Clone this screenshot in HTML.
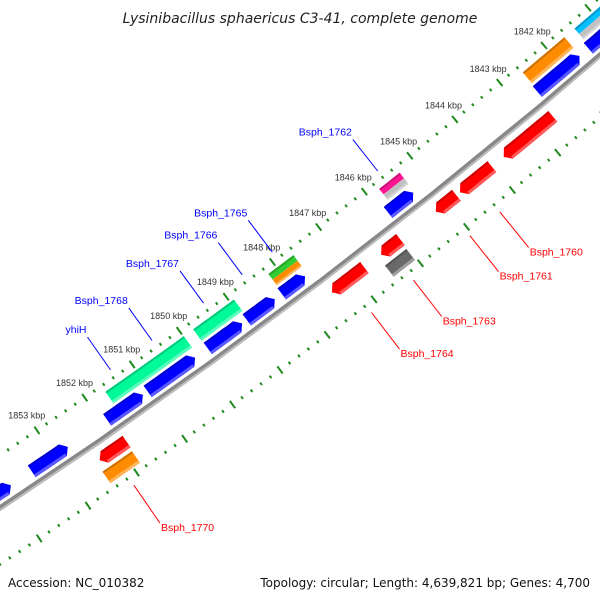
<!DOCTYPE html>
<html><head><meta charset="utf-8"><style>
html,body{margin:0;padding:0;background:#fff;}
svg{display:block;font-family:"Liberation Sans",sans-serif;}
</style></head><body>
<svg id="chart" width="600" height="600" viewBox="0 0 600 600">
<text x="300" y="23" text-anchor="middle" font-size="14" font-style="italic" fill="#222" style="font-family:'DejaVu Sans',sans-serif">Lysinibacillus sphaericus C3-41, complete genome</text>
<g id="ticks"></g>
<g id="backbone"></g>
<g id="genes"></g>
<g id="labels"></g>
<text x="8" y="587" font-size="12" fill="#111" style="font-family:'DejaVu Sans',sans-serif">Accession: NC_010382</text>
<text x="590" y="587" font-size="12" text-anchor="end" fill="#111" style="font-family:'DejaVu Sans',sans-serif">Topology: circular; Length: 4,639,821 bp; Genes: 4,700</text>
</svg>
<script>
// data
const kbpTicks = [1840,1841,1842,1843,1844,1845,1846,1847,1848,1849,1850,1851,1852,1853,1854,1855];
const geneStarts = [1840.5,1841.65,1845.35,1847.7,1848.35,1849.05,1850.05,1851.15,1852.72,1853.9,
  1840.5,1841.64,1845.32,1847.64,1848.92,1849.99,
  1842.67,1844.02,1844.8,1846.02,1846.8,1851.84,1846.04,1851.86];
const geneEnds = [1841.45,1842.6,1845.9,1848.2,1848.95,1849.78,1851.05,1851.9,1853.47,1855,
  1841.41,1842.58,1845.77,1848.18,1849.79,1851.65,
  1843.76,1844.72,1845.25,1846.44,1847.5,1852.4,1846.5,1852.47];
const geneLanes = [1,1,1,1,1,1,1,1,1,1, 2,2,2,2,2,2, -1,-1,-1,-1,-1,-1, -2,-2];
const geneColors = ["#0000ff","#0000ff","#0000ff","#0000ff","#0000ff","#0000ff","#0000ff","#0000ff","#0000ff","#0000ff",
  "#00bfff","#ff8c00","#ff1493","#32cd32","#00fa9a","#00fa9a",
  "#ff0000","#ff0000","#ff0000","#ff0000","#ff0000","#ff0000","#696969","#ff8c00"];
const geneSecond = ["","","","","","","","","","", "#c0c0c0","","#c0c0c0","#ff8c00","","", "","","","","","","",""];
const labelNames = ["Bsph_1762","Bsph_1765","Bsph_1766","Bsph_1767","Bsph_1768","yhiH","Bsph_1760","Bsph_1761","Bsph_1763","Bsph_1764","Bsph_1770"];
const labelGeneKbp = [1845.6,1847.9,1848.55,1849.38,1850.48,1851.36,1844.4,1845.05,1846.27,1847.17,1852.16];

const NS="http://www.w3.org/2000/svg";
const CX=-3306, CY=-4499, R=6000;
function ang(k){return (51.40+(k-1845)*0.557)*Math.PI/180;}
function pt(r,k){const a=ang(k);return [CX+r*Math.cos(a),CY+r*Math.sin(a)];}
function el(tag,attrs,parent){const e=document.createElementNS(NS,tag);for(const k in attrs)e.setAttribute(k,attrs[k]);parent.appendChild(e);return e;}
function mix(c,w,t){const n=parseInt(c.slice(1),16);let r=n>>16,g=(n>>8)&255,b=n&255;const m=w?255:0;r=Math.round(r+(m-r)*t);g=Math.round(g+(m-g)*t);b=Math.round(b+(m-b)*t);return "rgb("+r+","+g+","+b+")";}
function arcPoly(r1,r2,k1,k2){const pts=[];const n=8;for(let i=0;i<=n;i++){pts.push(pt(r1,k1+(k2-k1)*i/n));}for(let i=n;i>=0;i--){pts.push(pt(r2,k1+(k2-k1)*i/n));}return pts.map(p=>p[0].toFixed(1)+","+p[1].toFixed(1)).join(" ");}

// ticks
const tg=document.getElementById('ticks');
for(const ring of [R-44,R+47]){
  for(let k=kbpTicks[0]*5;k<=kbpTicks[kbpTicks.length-1]*5;k++){
    const kb=k/5, major=(k%5===0);
    const L=major?4.5:1.5;
    const a=pt(ring-L,kb), b=pt(ring+L,kb);
    const t=el('line',{x1:a[0],y1:a[1],x2:b[0],y2:b[1],stroke:"#1e8a1e","stroke-width":2},tg);
    
    
  }
}
kbpTicks.forEach(k=>{
  const p=pt(R-62,k);
  const t=el('text',{x:p[0].toFixed(1),y:(p[1]+3).toFixed(1),"font-size":9,"text-anchor":"middle",fill:"#333"},tg);
  t.textContent=k+" kbp";
  
  
});

// backbone
const bg=document.getElementById('backbone');
const bb1=el('polygon',{points:arcPoly(R-2.5,R+1,1838,1857),fill:"#888"},bg);


const bb2=el('polygon',{points:arcPoly(R+1,R+3,1838,1857),fill:"#bbb"},bg);



// genes
const gg=document.getElementById('genes');
const laneR={1:R-13,2:R-30,"-1":R+16,"-2":R+34};
const HW=7, TIP=6/6000*180/Math.PI/0.557;
geneStarts.forEach((s,i)=>{
  const e=geneEnds[i], lane=geneLanes[i], rc=laneR[lane], col=geneColors[i];
  const r1=rc-HW, r2=rc+HW;
  const arrow = (lane===1)||(lane===-1);
  let pts=[];
  if(arrow && lane===1){
    const n=8;
    for(let j=0;j<=n;j++)pts.push(pt(r1,s+TIP+(e-s-TIP)*j/n));
    for(let j=n;j>=0;j--)pts.push(pt(r2,s+TIP+(e-s-TIP)*j/n));
    pts.push(pt(rc,s));
  } else if(arrow){
    const n=8;
    for(let j=0;j<=n;j++)pts.push(pt(r1,s+(e-TIP-s)*j/n));
    pts.push(pt(rc,e));
    for(let j=n;j>=0;j--)pts.push(pt(r2,s+(e-TIP-s)*j/n));
  }
  const g=el('g',{},gg);
  
  
  if(pts.length){
    el('polygon',{points:pts.map(p=>p[0].toFixed(1)+","+p[1].toFixed(1)).join(" "),fill:col},g);
    el('polygon',{points:arcPoly(r2-3,r2,s+TIP*(lane===1?1:0),e-TIP*(lane===-1?1:0)),fill:mix(col,true,0.35)},g);
    el('polygon',{points:arcPoly(r1,r1+2,s+TIP*(lane===1?1:0),e-TIP*(lane===-1?1:0)),fill:mix(col,false,0.2)},g);
  } else {
    const sec=geneSecond[i];
    if(sec){
      el('polygon',{points:arcPoly(r1,rc,s,e),fill:col},g);
      el('polygon',{points:arcPoly(rc,r2,s,e),fill:sec},g);
      el('polygon',{points:arcPoly(r2-2,r2,s,e),fill:mix(sec,true,0.35)},g);
    } else {
      el('polygon',{points:arcPoly(r1,r2,s,e),fill:col},g);
      el('polygon',{points:arcPoly(r2-3,r2,s,e),fill:mix(col,true,0.35)},g);
    }
    el('polygon',{points:arcPoly(r1,r1+2,s,e),fill:mix(col,false,0.2)},g);
  }
});

// labels
const lg=document.getElementById('labels');
labelNames.forEach((nm,i)=>{
  const k=labelGeneKbp[i];
  const fwd = i<6;
  const rA = fwd? R-52 : R+56, rB = fwd? R-92 : R+102;
  const a=pt(rA,k), b=pt(rB,k);
  const col=fwd?"#0000ff":"#ff0000";
  const ln=el('line',{x1:a[0].toFixed(1),y1:a[1].toFixed(1),x2:b[0].toFixed(1),y2:b[1].toFixed(1),stroke:col,"stroke-width":1},lg);
  
  
  const t=el('text',{x:(fwd?b[0]-1:b[0]+1).toFixed(1),y:(fwd?b[1]-4:b[1]+8).toFixed(1),"font-size":10.5,fill:col,"text-anchor":fwd?"end":"start"},lg);
  t.textContent=nm;
  
  
});
</script>
</body></html>
